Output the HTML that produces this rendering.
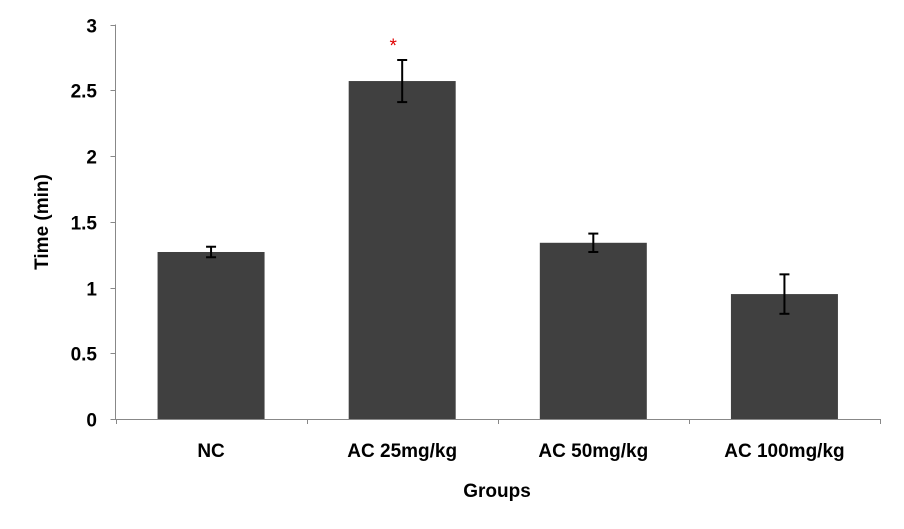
<!DOCTYPE html>
<html><head><meta charset="utf-8"><style>
html,body{margin:0;padding:0;background:#fff;}
svg{display:block;font-family:"Liberation Sans",Arial,sans-serif;font-weight:bold;}
</style></head><body>
<svg id="chart" width="904" height="529"></svg>
<script>
const categories = ["NC","AC 25mg/kg","AC 50mg/kg","AC 100mg/kg"];
const values = [1.27, 2.57, 1.34, 0.95];
const errors = [0.04, 0.16, 0.07, 0.15];
const yTicks = [0, 0.5, 1, 1.5, 2, 2.5, 3];
const yTickLabels = ["0","0.5","1","1.5","2","2.5","3"];
const significant = [false, true, false, false];

const NS = "http://www.w3.org/2000/svg";
const svg = document.getElementById("chart");
const x0 = 115.5, x1 = 880, yBase = 419, yTop = 24.5, yMax = 3;
const bandW = (x1 - x0) / categories.length;
const barW = 107;
function yScale(v){ return yBase - (v / yMax) * (yBase - yTop); }
function xCenter(i){ return x0 + bandW * (i + 0.5); }
function mk(tag, attrs, parent){
  const e = document.createElementNS(NS, tag);
  for (const k in attrs) e.setAttribute(k, attrs[k]);
  (parent || svg).appendChild(e);
  return e;
}

const yAxis = mk("line", {x1:x0, y1:yTop, x2:x0, y2:yBase, stroke:"#888", "stroke-width":1});


const xAxis = mk("line", {x1:x0, y1:yBase+0.5, x2:x1, y2:yBase+0.5, stroke:"#888", "stroke-width":1});



yTicks.forEach((t, i) => {
  const y = Math.round(yScale(t)) + 0.5;
  const tk = mk("line", {x1:x0-5, y1:y, x2:x0, y2:y, stroke:"#888"});
  
  
  const lb = mk("text", {x:97, y:y+7, "text-anchor":"end", "font-size":19, fill:"#000"});
  lb.textContent = yTickLabels[i];
  
  
});
for (let i = 0; i <= categories.length; i++) {
  const x = Math.round(x0 + bandW * i) + 0.5;
  const tk = mk("line", {x1:x, y1:yBase, x2:x, y2:yBase+5, stroke:"#888"});
  
  
}

categories.forEach((c, i) => {
  const cx = xCenter(i);
  const top = yScale(values[i]);
  const bar = mk("rect", {x:cx - barW/2, y:top, width:barW, height:yBase - top, fill:"#404040"});
  
  
  const eHi = yScale(values[i] + errors[i]), eLo = yScale(values[i] - errors[i]);
  const g = mk("g", {stroke:"#000", "stroke-width":2});
  
  
  mk("line", {x1:cx, y1:eHi, x2:cx, y2:eLo}, g);
  mk("line", {x1:cx-5, y1:eHi, x2:cx+5, y2:eHi}, g);
  mk("line", {x1:cx-5, y1:eLo, x2:cx+5, y2:eLo}, g);
  const lb = mk("text", {x:cx, y:457, "text-anchor":"middle", "font-size":19, fill:"#000"});
  lb.textContent = c;
  
  
  if (significant[i]) {
    const s = mk("text", {x:cx - 9, y:eHi - 8, "text-anchor":"middle", "font-size":19, "font-weight":"normal", fill:"#e00000"});
    s.textContent = "*";
    
    
  }
});

const xt = mk("text", {x:497, y:497, "text-anchor":"middle", "font-size":19, fill:"#000"});
xt.textContent = "Groups";


const yt = mk("text", {x:0, y:0, "text-anchor":"middle", "font-size":19, fill:"#000", transform:"translate(48,222) rotate(-90)"});
yt.textContent = "Time (min)";


</script>
</body></html>
